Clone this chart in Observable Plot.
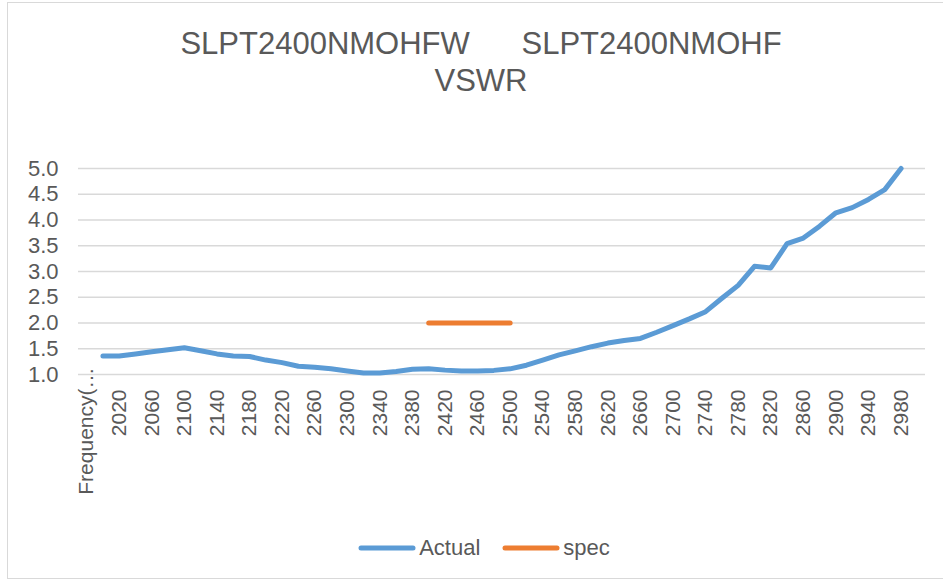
<!DOCTYPE html>
<html>
<head>
<meta charset="utf-8">
<script src="https://cdn.jsdelivr.net/npm/d3@7"></script>
<script src="https://cdn.jsdelivr.net/npm/@observablehq/plot@0.6"></script>
<style>
  html, body { margin: 0; padding: 0; background: #fff; overflow: hidden; }
  #wrap { position: relative; width: 943px; height: 584px; overflow: hidden; font-family: "Liberation Sans", Arial, sans-serif; color: #595959; }
  #border { position: absolute; left: 7px; top: 2px; width: 1000px; height: 577px; border: 1px solid #d9d9d9; box-sizing: border-box; }
  #title { position: absolute; left: 0; top: 25px; width: 962px; text-align: center; font-size: 31px; line-height: 37px; white-space: pre; }
  #chart { position: absolute; left: 0; top: 110px; }
  #legend { position: absolute; left: 0; top: 535px; width: 968px; display: flex; justify-content: center; align-items: center; font-size: 22px; }
  .item { display: flex; align-items: center; margin: 0 11px; }
  .item svg { margin-right: 3px; }
</style>
</head>
<body>
<div id="wrap">
  <div id="border"></div>
  <div id="title"></div>
  <div id="chart"></div>
  <div id="legend"></div>
</div>
<script>
// ---- data ----
const titleLines = ["SLPT2400NMOHFW      SLPT2400NMOHF", "VSWR"];
const categories = ["Frequency(MHz)",
  "2000","2020","2040","2060","2080","2100","2120","2140","2160","2180",
  "2200","2220","2240","2260","2280","2300","2320","2340","2360","2380",
  "2400","2420","2440","2460","2480","2500","2520","2540","2560","2580",
  "2600","2620","2640","2660","2680","2700","2720","2740","2760","2780",
  "2800","2820","2840","2860","2880","2900","2920","2940","2960","2980","3000"];
const actualValues = [null,
  1.36, 1.36, 1.40, 1.44, 1.48, 1.52, 1.46, 1.40, 1.36, 1.35,
  1.28, 1.23, 1.16, 1.14, 1.11, 1.07, 1.03, 1.03, 1.06, 1.10,
  1.11, 1.085, 1.07, 1.07, 1.08, 1.11, 1.18, 1.28, 1.38, 1.46,
  1.54, 1.61, 1.66, 1.70, 1.82, 1.95, 2.08, 2.22, 2.48, 2.73,
  3.10, 3.07, 3.54, 3.65, 3.88, 4.14, 4.24, 4.40, 4.59, 5.00, null];
const specCategories = ["2400","2420","2440","2460","2480","2500"];
const specValues = [2, 2, 2, 2, 2, 2];
const seriesNames = ["Actual", "spec"];
const seriesColors = ["#5B9BD5", "#ED7D31"];
const yTicks = [1.0, 1.5, 2.0, 2.5, 3.0, 3.5, 4.0, 4.5, 5.0];
const xTickCategories = categories.filter((d, i) => i % 2 === 0 && i > 0);
const firstTickLabel = "Frequency(…";

// ---- build ----
document.getElementById("title").textContent = titleLines.join("\n");

const actualData = categories.map((c, i) => ({cat: c, v: actualValues[i]}));
const specData = specCategories.map((c, i) => ({cat: c, v: specValues[i]}));

const axisStyle = {fontSize: 21, fill: "#595959"};

const chart = Plot.plot({
  width: 943,
  height: 430,
  marginTop: 58,
  marginBottom: 166,
  marginLeft: 78,
  marginRight: 18,
  style: {fontFamily: "'Liberation Sans', Arial, sans-serif", background: "transparent", overflow: "visible"},
  x: {type: "point", domain: categories, padding: 0.5, round: false},
  y: {domain: [1, 5]},
  marks: [
    Plot.gridY(yTicks, {stroke: "#d9d9d9", strokeOpacity: 1, strokeWidth: 1.5}),
    Plot.axisY(yTicks, {tickSize: 0, tickPadding: 20, tickFormat: d3.format(".1f"), label: null, ...axisStyle, fontSize: 22}),
    Plot.axisX(xTickCategories, {tickSize: 0, tickPadding: 15, tickRotate: -90, textAnchor: "end", lineAnchor: "middle", label: null, ...axisStyle}),
    Plot.axisX([categories[0]], {tickSize: 0, tickPadding: -7, tickRotate: -90, textAnchor: "end", lineAnchor: "middle", tickFormat: () => firstTickLabel, label: null, ...axisStyle}),
    Plot.line(actualData, {x: "cat", y: "v", stroke: seriesColors[0], strokeWidth: 5, strokeLinecap: "round", strokeLinejoin: "round"}),
    Plot.line(specData, {x: "cat", y: "v", stroke: seriesColors[1], strokeWidth: 5, strokeLinecap: "round", strokeLinejoin: "round"})
  ]
});
document.getElementById("chart").appendChild(chart);

const legend = document.getElementById("legend");
seriesNames.forEach((name, i) => {
  const item = document.createElement("div");
  item.className = "item";
  item.innerHTML = `<svg width="58" height="10"><line x1="3" y1="5" x2="55" y2="5" stroke="${seriesColors[i]}" stroke-width="5" stroke-linecap="round"/></svg><span>${name}</span>`;
  legend.appendChild(item);
});
</script>
</body>
</html>
